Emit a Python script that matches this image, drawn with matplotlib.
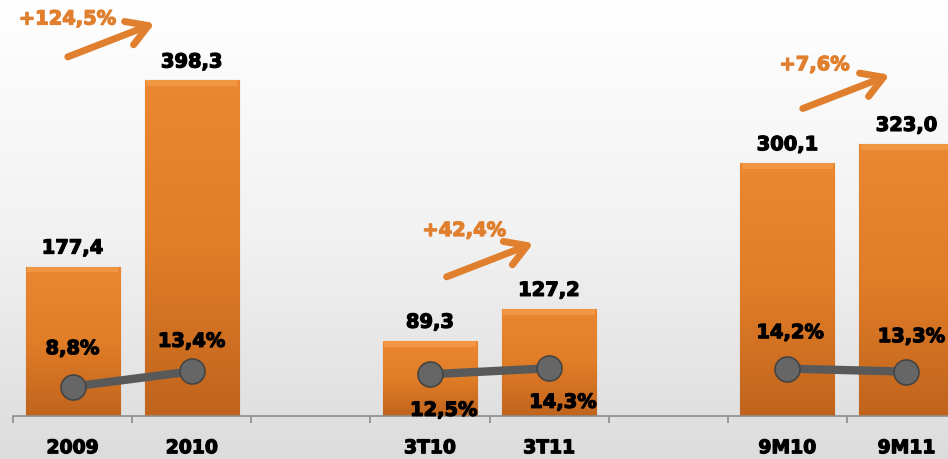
import numpy as np
import matplotlib.pyplot as plt
import matplotlib.colors as mcolors
import matplotlib.patheffects as pe

# Data
categories = ['2009', '2010', '', '3T10', '3T11', '', '9M10', '9M11']
values = [177.4, 398.3, np.nan, 89.3, 127.2, np.nan, 300.1, 323.0]
value_labels = ['177,4', '398,3', '', '89,3', '127,2', '', '300,1', '323,0']
margins = [8.8, 13.4, np.nan, 12.5, 14.3, np.nan, 14.2, 13.3]
margin_labels = ['8,8%', '13,4%', '', '12,5%', '14,3%', '', '14,2%', '13,3%']
growth_pairs = [0, 3, 6]
growth_labels = ['+124,5%', '+42,4%', '+7,6%']

orange = '#E07F2E'
x = np.arange(len(categories))
heavy = [pe.withStroke(linewidth=0.9, foreground='black')]
heavy_orange = [pe.withStroke(linewidth=0.9, foreground=orange)]

fig = plt.figure(figsize=(9.48, 4.6), dpi=100)

# background gradient (white at top, light grey at bottom)
bg = fig.add_axes([0, 0, 1, 1], zorder=-10)
grad = np.linspace(0.0, 1.0, 256).reshape(-1, 1)
bg_cmap = mcolors.LinearSegmentedColormap.from_list('bg', ['#DCDCDC', '#F2F2F2', '#FFFFFF'])
bg.imshow(grad, aspect='auto', cmap=bg_cmap, extent=[0, 1, 0, 1], origin='lower')
bg.axis('off')

ax = fig.add_axes([13 / 948, 43 / 460, 953 / 948, 417 / 460])
ax.patch.set_alpha(0)

bar_cmap = mcolors.LinearSegmentedColormap.from_list('bar', ['#C0641D', '#E17D27', '#EC8731'])
bars = ax.bar(x, values, width=0.79, color=orange, edgecolor='#B8611E', linewidth=0.8, zorder=2)
for b in bars:
    h = b.get_height()
    if np.isnan(h):
        continue
    im = ax.imshow(np.linspace(0, 1, 256).reshape(-1, 1), aspect='auto', cmap=bar_cmap,
                   extent=[b.get_x(), b.get_x() + b.get_width(), 0, h], origin='lower', zorder=2)
    im.set_clip_path(b)
    # bevel highlight on top
    ax.bar(b.get_x() + b.get_width() / 2, 7, bottom=h - 7, width=b.get_width() * 0.97,
           color='#F7A453', alpha=0.55, linewidth=0, zorder=3)

for xi, v, lab in zip(x, values, value_labels):
    if lab:
        ax.annotate(lab, (xi, v), xytext=(0, 9), textcoords='offset pixels', ha='center',
                    va='bottom', fontsize=14, fontweight='bold', color='black', zorder=6,
                    path_effects=heavy)

ax.set_xlim(-0.5, len(categories) - 0.5)
ax.set_ylim(0, 495)
ax.set_yticks([])
for s in ['top', 'right', 'left']:
    ax.spines[s].set_visible(False)
ax.spines['bottom'].set_color('#8C8C8C')
ax.spines['bottom'].set_linewidth(1.2)
ax.set_xticks(x)
ax.set_xticklabels(categories, fontsize=13.5, fontweight='bold')
for t in ax.get_xticklabels():
    t.set_path_effects(heavy)
ax.tick_params(axis='x', which='major', length=0, pad=16)
ax.set_xticks(np.arange(len(categories) + 1) - 0.5, minor=True)
ax.tick_params(axis='x', which='minor', length=5, color='#8C8C8C', width=1.2)

# growth arrows
arrow_dx = [-0.04, 0.14, 0.13]
arrow_dy = [28, 38, 42]
text_dx = [-0.04, 0.29, 0.23]
text_dy = [45, 55, 52]
for k, (i, lab) in enumerate(zip(growth_pairs, growth_labels)):
    x0 = i + arrow_dx[k]
    y0 = values[i + 1] + arrow_dy[k]
    ax.annotate('', xy=(x0 + 0.73, y0 + 40), xytext=(x0, y0),
                arrowprops=dict(arrowstyle='->,head_length=0.75,head_width=0.45', color=orange,
                                lw=5, mutation_scale=20, shrinkA=0, shrinkB=0), zorder=6)
    ax.text(i + text_dx[k], y0 + text_dy[k], lab, ha='center', va='center', fontsize=14,
            fontweight='bold', color=orange, zorder=6, path_effects=heavy_orange)

# margin line on secondary axis
ax2 = ax.twinx()
ax2.set_ylim(0, 125)
ax2.axis('off')
ax2.plot(x, margins, color='#595959', lw=6, marker='o', markersize=18,
         markerfacecolor='#666666', markeredgecolor='#444444', markeredgewidth=1.2, zorder=4)
offsets = [(0, 38), (0, 30), None, (14, -36), (14, -34), None, (3, 36), (5, 35)]
for xi, m, lab, off in zip(x, margins, margin_labels, offsets):
    if lab:
        ax2.annotate(lab, (xi, m), xytext=off, textcoords='offset pixels', ha='center',
                     va='center', fontsize=14, fontweight='bold', color='black', zorder=6,
                     path_effects=heavy)

fig.savefig('out.png', dpi=100)
